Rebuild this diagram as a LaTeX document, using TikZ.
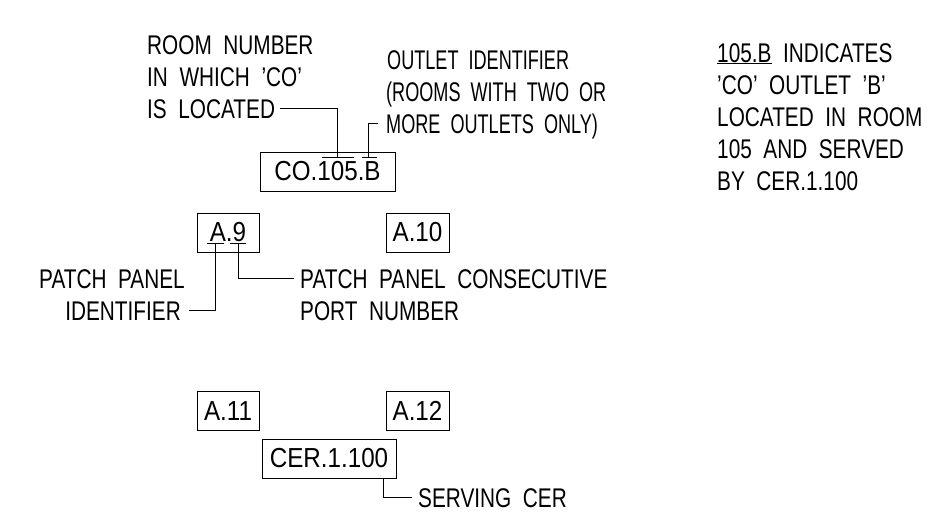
\documentclass[tikz,border=0pt]{standalone}
\usepackage{fontspec}
\newfontfamily\cadfont[FakeStretch=0.77, WordSpace=2.0]{Liberation Sans}
\newfontfamily\cadnarrowfont[FakeStretch=0.67, WordSpace=2.0]{Liberation Sans}
\newfontfamily\tagfont[FakeStretch=0.88]{Liberation Sans}
\usetikzlibrary{calc}

\begin{document}
\begin{tikzpicture}[x=1pt, y=-1pt]
  % Styling
  \tikzset{
    tag/.style={
      draw=black,
      line width=1pt,
      inner sep=0pt,
      minimum height=39pt,
      font=\tagfont\fontsize{27.5}{30}\selectfont
    },
    note/.style={
      anchor=base west,
      inner sep=0pt,
      text height=19pt,
      text depth=0pt,
      font=\cadfont\fontsize{27}{30}\selectfont
    },
    notenarrow/.style={
      note,
      font=\cadnarrowfont\fontsize{27}{30}\selectfont
    },
    noteleft/.style={
      note,
      anchor=base east
    },
    leader/.style={
      line width=1pt,
      black
    }
  }
  \useasboundingbox (0,0) rectangle (935,520);

  % ===== Outlet label =====
  \node[tag, minimum width=135pt] (co) at (327.5,171.5) {CO.105.B};
  \node[note] (room1) at (147,54) {ROOM NUMBER};
  \node[note] (room2) at (147,86) {IN WHICH ’CO’};
  \node[note] (located) at (147,118) {IS LOCATED};
  \node[notenarrow] (outlet1) at (387,69) {OUTLET IDENTIFIER};
  \node[notenarrow] (outlet2) at (386,101) {(ROOMS WITH TWO OR};
  \node[notenarrow] (moreout) at (386,133) {MORE OUTLETS ONLY)};

  % Ticks over room number and outlet letter
  \coordinate (roomtick) at ($(co.north west)+(78,6)$);
  \coordinate (outtick) at ($(co.north west)+(109,6)$);
  \draw[leader] ($(co.north west)+(62,6)$) -- ($(co.north west)+(94,6)$);
  \draw[leader] ($(co.north west)+(102,6)$) -- ($(co.north west)+(117,6)$);
  \draw[leader] ($(located.east)+(5,0)$) -| (roomtick);
  \draw[leader] ($(moreout.west)+(-8,0)$) -| (outtick);

  % ===== Patch panel ports =====
  \node[tag, minimum width=62pt] (a9) at (228,232.5) {A.9};
  \node[tag, minimum width=63pt] (a10) at (417.5,232.5) {A.10};
  \node[tag, minimum width=62pt] (a11) at (228,411) {A.11};
  \node[tag, minimum width=63pt] (a12) at (417.5,411) {A.12};

  \node[noteleft] (panel1) at (185,288) {PATCH PANEL};
  \node[noteleft] (ident) at (181,320) {IDENTIFIER};
  \node[note] (consec) at (300,288) {PATCH PANEL CONSECUTIVE};
  \node[note] (port) at (300,320) {PORT NUMBER};

  % Ticks under panel letter and port number
  \coordinate (idtick) at ($(a9.north west)+(19,31)$);
  \coordinate (porttick) at ($(a9.north west)+(42,31)$);
  \draw[leader] ($(a9.north west)+(10,31)$) -- ($(a9.north west)+(27,31)$);
  \draw[leader] ($(a9.north west)+(33,31)$) -- ($(a9.north west)+(49,31)$);
  \draw[leader] (idtick) |- ($(ident.east)+(8,0)$);
  \draw[leader] (porttick) |- ($(consec.west)+(-6,0)$);

  % ===== Serving CER =====
  \node[tag, minimum width=134pt] (cer) at (329,458.5) {CER.1.100};
  \node[note] (serving) at (418,507) {SERVING CER};
  \coordinate (certick) at ($(cer.south east)+(-13,0)$);
  \draw[leader] (certick) |- ($(serving.west)+(-6,0)$);

  % ===== Explanation =====
  \node[note] (ex1) at (717,62) {\underline{105.B} INDICATES};
  \node[note] (ex2) at (717,94) {’CO’ OUTLET ’B’};
  \node[note] (ex3) at (717,126) {LOCATED IN ROOM};
  \node[note] (ex4) at (717,158) {105 AND SERVED};
  \node[note] (ex5) at (717,190) {BY CER.1.100};
\end{tikzpicture}
\end{document}
